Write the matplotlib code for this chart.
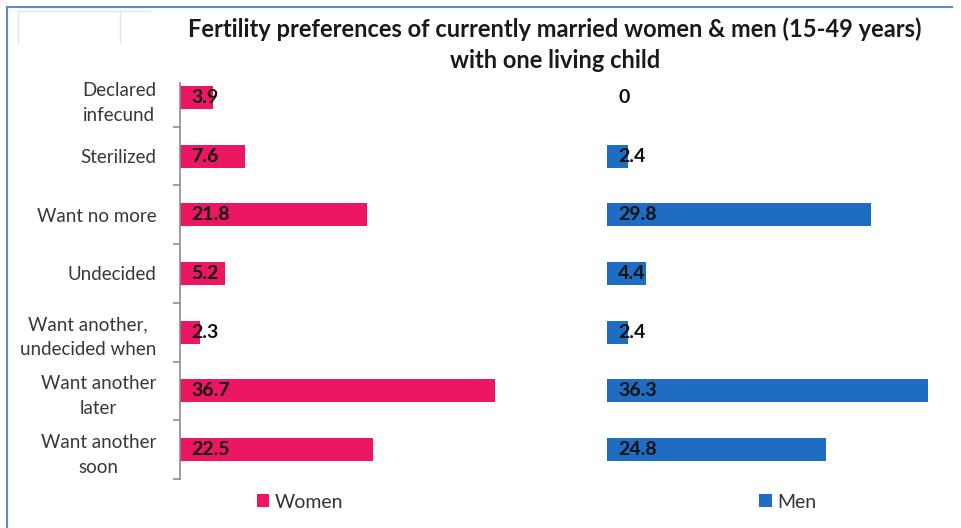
import matplotlib.pyplot as plt
from matplotlib.lines import Line2D

plt.rcParams['font.family'] = ['Lato', 'DejaVu Sans']

# data
categories = ['Declared\ninfecund', 'Sterilized', 'Want no more', 'Undecided',
              'Want another,\nundecided when', 'Want another\nlater', 'Want another\nsoon']
women = [3.9, 7.6, 21.8, 5.2, 2.3, 36.7, 22.5]
men = [0, 2.4, 29.8, 4.4, 2.4, 36.3, 24.8]

pink = '#EC1763'
blue = '#1F6DC2'

fig = plt.figure(figsize=(9.61, 5.28), dpi=100)
W, H = 961, 528


def box(x0, x1, y0=68, y1=479):
    return [x0 / W, 1 - y1 / H, (x1 - x0) / W, (y1 - y0) / H]


ax1 = fig.add_axes(box(180, 560))
ax2 = fig.add_axes(box(607, 945))

ypos = list(range(len(categories)))

ax1.barh(ypos, women, height=0.39, color=pink, label='Women')
ax2.barh(ypos, men, height=0.39, color=blue, label='Men')

ax1.set_xlim(0, 380 / 8.58)
ax2.set_xlim(0, 338 / 8.85)

for ax, vals in [(ax1, women), (ax2, men)]:
    ax.set_ylim(6.5, -0.5)
    for s in ['top', 'right', 'bottom']:
        ax.spines[s].set_visible(False)
    ax.set_xticks([])
    for y, v in zip(ypos, vals):
        ax.annotate(f'{v:g}', (0, y), xytext=(8, 0), textcoords='offset points',
                    ha='left', va='center', fontsize=14, fontweight='bold', color='#111111')

# women axis: labels + boundary ticks
ax1.spines['left'].set_color('#8c8c8c')
ax1.spines['left'].set_linewidth(1.2)
ax1.spines['left'].set_bounds(-0.245, 6.5)
ax1.set_yticks(ypos)
ax1.set_yticklabels(categories, fontsize=13.5, color='#383838', linespacing=1.55)
for t in ax1.get_yticklabels():
    t.set_multialignment('center')
ax1.tick_params(axis='y', which='major', length=0, pad=17)
ax1.set_yticks([0.5 + i for i in range(6)] + [6.5], minor=True)
ax1.tick_params(axis='y', which='minor', length=5, color='#8c8c8c', width=1.2)

ax2.spines['left'].set_visible(False)
ax2.set_yticks([])

# legends
for ax, cx in [(ax1, 300), (ax2, 788)]:
    ax.legend(loc='center', bbox_to_anchor=(cx / W, 1 - 502 / H), bbox_transform=fig.transFigure,
              frameon=False, fontsize=14, handlelength=0.65, handleheight=0.65,
              handletextpad=0.3, labelcolor='#333333')

fig.text(555 / W, 1 - 29 / H, 'Fertility preferences of currently married women & men (15-49 years)',
         ha='center', va='center', fontsize=17, fontweight='bold', color='#1a1a1a')
fig.text(555 / W, 1 - 61 / H, 'with one living child',
         ha='center', va='center', fontsize=17, fontweight='bold', color='#1a1a1a')

# frame of the screenshot
fig.add_artist(Line2D([7 / W, 7 / W], [0, 1 - 7 / H], color='#5B8BD0', lw=1.5))
fig.add_artist(Line2D([7 / W, 952 / W], [1 - 7 / H, 1 - 7 / H], color='#5B8BD0', lw=1.5))
# faint spreadsheet grid lines in the corner
fig.add_artist(Line2D([18 / W, 150 / W], [1 - 11 / H, 1 - 11 / H], color='#e4e4e4', lw=1))
fig.add_artist(Line2D([18 / W, 18 / W], [1 - 11 / H, 1 - 43 / H], color='#e4e4e4', lw=1))
fig.add_artist(Line2D([120 / W, 120 / W], [1 - 11 / H, 1 - 43 / H], color='#e4e4e4', lw=1))

fig.savefig('out.png', dpi=100)
